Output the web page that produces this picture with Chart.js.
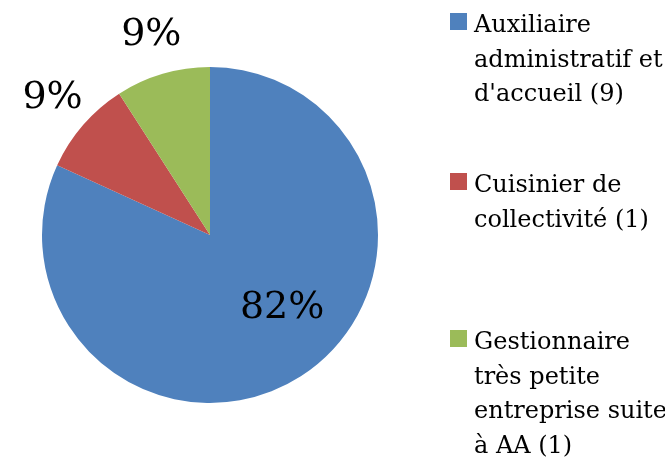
<!DOCTYPE html>
<html>
<head>
<meta charset="utf-8">
<script src="https://cdn.jsdelivr.net/npm/chart.js@4/dist/chart.umd.min.js"></script>
<style>
  html, body { margin: 0; padding: 0; background: #fff; }
  #wrap { width: 665px; height: 461px; position: relative; }
</style>
</head>
<body>
<div id="wrap"><canvas id="pie"></canvas></div>
<script>
// === DONNÉES ===
const categories = [
  ['Auxiliaire', 'administratif et', "d'accueil (9)"],
  ['Cuisinier de', 'collectivité (1)'],
  ['Gestionnaire', 'très petite', 'entreprise suite', 'à AA (1)']
];
const valeurs = [9, 1, 1];
const couleurs = ['#4F81BD', '#C0504D', '#9BBB59'];

const police = "'DejaVu Serif'";

// étiquettes en pourcentage (dedans pour la grande part, dehors pour les petites)
const pourcentages = {
  id: 'pourcentages',
  afterDatasetsDraw(chart) {
    const ctx = chart.ctx;
    const total = valeurs.reduce((a, b) => a + b, 0);
    const arcs = chart.getDatasetMeta(0).data;
    ctx.save();
    ctx.fillStyle = '#000';
    ctx.font = '38px ' + police;
    ctx.textAlign = 'center';
    ctx.textBaseline = 'middle';
    arcs.forEach((arc, i) => {
      const p = valeurs[i] / total;
      let mid = (arc.startAngle + arc.endAngle) / 2;
      let r = arc.outerRadius * 1.24;
      if (p > 0.5) {
        // Excel décale l'étiquette de la grande part vers la droite
        mid -= 0.21;
        r = arc.outerRadius * 0.61;
      }
      const x = arc.x + Math.cos(mid) * r;
      const y = arc.y + Math.sin(mid) * r;
      ctx.fillText(Math.round(p * 100) + '%', x, y);
    });
    ctx.restore();
  }
};

// légende à droite, texte sur plusieurs lignes
const legende = {
  id: 'legende',
  afterDraw(chart) {
    const ctx = chart.ctx;
    const debuts = [13, 173, 330];
    ctx.save();
    ctx.font = '24px ' + police;
    ctx.textBaseline = 'alphabetic';
    ctx.textAlign = 'left';
    categories.forEach((lignes, i) => {
      const y0 = debuts[i];
      ctx.fillStyle = couleurs[i];
      ctx.fillRect(450, y0, 17, 17);
      ctx.fillStyle = '#000';
      lignes.forEach((t, j) => ctx.fillText(t, 474, y0 + 19 + j * 34.5));
    });
    ctx.restore();
  }
};

new Chart(document.getElementById('pie'), {
  type: 'pie',
  data: {
    labels: categories.map(c => c.join(' ')),
    datasets: [{
      data: valeurs,
      backgroundColor: couleurs,
      borderWidth: 0
    }]
  },
  options: {
    responsive: true,
    maintainAspectRatio: false,
    animation: false,
    layout: { padding: { top: 67, bottom: 58, left: 42, right: 287 } },
    plugins: {
      legend: { display: false },
      tooltip: { enabled: false }
    }
  },
  plugins: [pourcentages, legende]
});
</script>
</body>
</html>
